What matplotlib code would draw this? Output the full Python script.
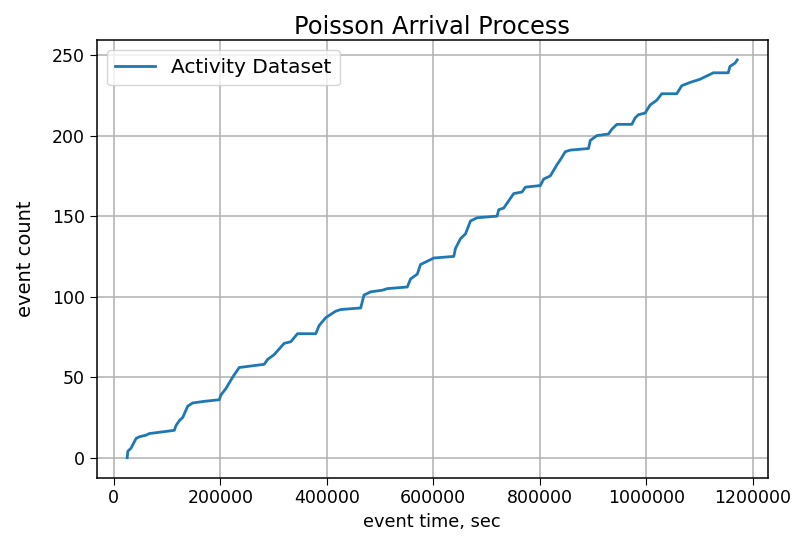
import matplotlib
matplotlib.use("Agg")
import matplotlib.pyplot as plt

# cumulative event count against arrival time (seconds)
event_time = [25000, 26250, 32400, 41800, 48000, 60600, 66750, 113600, 116800,
              123000, 129400, 138750, 148100, 169900, 198000, 201200, 210600,
              223100, 235500, 282400, 288750, 301100, 319900, 332400, 345000,
              379300, 385500, 398100, 416800, 426200, 463700, 469900, 482400,
              504400, 513750, 551250, 557400, 570000, 576200, 588750, 601100,
              638600, 641800, 651200, 660600, 670000, 682500, 720000, 723000,
              732400, 751100, 766900, 773100, 801200, 807400, 820000, 832500,
              838750, 848100, 857500, 891750, 895000, 907500, 929250, 935600,
              945000, 973100, 979300, 985500, 998000, 1007400, 1020000,
              1029400, 1057500, 1066900, 1082400, 1101200, 1120000, 1126100,
              1154250, 1157400, 1166900, 1171100]
event_count = [0, 4, 6, 12, 13, 14, 15, 17, 20,
               23, 25, 32, 34, 35, 36, 39, 43,
               50, 56, 58, 61, 64, 71, 72, 77,
               77, 82, 87, 91, 92, 93, 101, 103,
               104, 105, 106, 111, 114, 120, 122, 124,
               125, 130, 136, 139, 147, 149, 150, 154,
               155, 164, 165, 168, 169, 173, 175, 182,
               185, 190, 191, 192, 197, 200, 201, 204,
               207, 207, 211, 213, 214, 219, 222,
               226, 226, 231, 233, 235, 238, 239,
               239, 243, 245, 247]

plt.rcParams['font.size'] = 12.5
plt.rcParams['axes.linewidth'] = 1.1
plt.rcParams['xtick.major.size'] = 5
plt.rcParams['ytick.major.size'] = 5

fig = plt.figure(figsize=(7.95, 5.41), dpi=100)
ax = fig.add_axes([0.1216, 0.1172, 0.8441, 0.8088])

ax.plot(event_time, event_count, color='#1f77b4', lw=2.0, label='Activity Dataset')
ax.set_title('Poisson Arrival Process', fontsize=17.4, pad=4.5)
ax.set_xlabel('event time, sec', fontsize=12.8)
ax.set_ylabel('event count', fontsize=14, labelpad=12)
ax.set_xticks([0, 200000, 400000, 600000, 800000, 1000000, 1200000])
ax.ticklabel_format(style='plain', axis='x', useOffset=False)
ax.grid(True, color='#b0b0b0', lw=1.1)
ax.legend(loc='upper left', fontsize=14.5, handlelength=2.0)

fig.savefig('out.png', dpi=100)
